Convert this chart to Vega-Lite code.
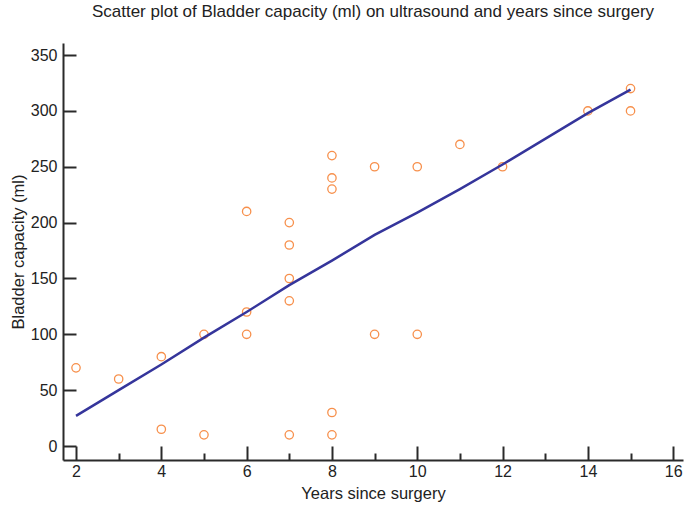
{
  "$schema": "https://vega.github.io/schema/vega-lite/v6.json",
  "width": 620,
  "height": 417,
  "autosize": {"type": "none"},
  "padding": {"left": 63, "top": 43, "right": 2, "bottom": 46},
  "background": "white",
  "title": {
    "text": "Scatter plot of Bladder capacity (ml) on ultrasound and years since surgery",
    "font": "Liberation Sans",
    "fontSize": 17,
    "fontWeight": "normal",
    "color": "#222222",
    "anchor": "middle",
    "offset": 22
  },
  "config": {
    "view": {"stroke": null},
    "axis": {
      "labelFont": "Liberation Sans",
      "titleFont": "Liberation Sans",
      "labelFontSize": 16,
      "titleFontSize": 16.5,
      "titleFontWeight": "normal",
      "labelColor": "#222222",
      "titleColor": "#222222",
      "domainColor": "#2a2a2a",
      "tickColor": "#2a2a2a",
      "domainWidth": 2,
      "tickWidth": 2,
      "grid": false
    }
  },
  "layer": [
    {
      "data": {"values": [
        {"years": 2, "capacity": 70},
        {"years": 3, "capacity": 60},
        {"years": 4, "capacity": 80},
        {"years": 4, "capacity": 15},
        {"years": 5, "capacity": 100},
        {"years": 5, "capacity": 10},
        {"years": 6, "capacity": 210},
        {"years": 6, "capacity": 120},
        {"years": 6, "capacity": 100},
        {"years": 7, "capacity": 200},
        {"years": 7, "capacity": 180},
        {"years": 7, "capacity": 150},
        {"years": 7, "capacity": 130},
        {"years": 7, "capacity": 10},
        {"years": 8, "capacity": 260},
        {"years": 8, "capacity": 240},
        {"years": 8, "capacity": 230},
        {"years": 8, "capacity": 30},
        {"years": 8, "capacity": 10},
        {"years": 9, "capacity": 250},
        {"years": 9, "capacity": 100},
        {"years": 10, "capacity": 250},
        {"years": 10, "capacity": 100},
        {"years": 11, "capacity": 270},
        {"years": 12, "capacity": 250},
        {"years": 14, "capacity": 300},
        {"years": 15, "capacity": 320},
        {"years": 15, "capacity": 300}
      ]},
      "mark": {"type": "point", "shape": "circle", "filled": false, "size": 70, "strokeWidth": 1.3, "color": "#F7904C", "opacity": 1},
      "encoding": {
        "x": {"field": "years", "type": "quantitative",
              "scale": {"domain": [1.695, 16.23], "nice": false, "zero": false},
              "axis": {"orient": "bottom", "values": [2, 4, 6, 8, 10, 12, 14, 16], "tickSize": -14, "labelPadding": 17, "title": "Years since surgery", "titlePadding": 6, "format": "d"}},
        "y": {"field": "capacity", "type": "quantitative",
              "scale": {"domain": [-12.5, 360.8], "nice": false, "zero": false},
              "axis": {"values": [0, 50, 100, 150, 200, 250, 300, 350], "tickSize": -13, "labelPadding": 19, "title": "Bladder capacity (ml)", "titlePadding": 4, "format": "d"}}
      }
    },
    {
      "data": {"values": [
        {"years": 2, "fit": 27},
        {"years": 3, "fit": 50},
        {"years": 4, "fit": 73},
        {"years": 5, "fit": 97},
        {"years": 6, "fit": 120},
        {"years": 7, "fit": 144},
        {"years": 8, "fit": 166},
        {"years": 9, "fit": 189},
        {"years": 10, "fit": 209},
        {"years": 11, "fit": 230},
        {"years": 12, "fit": 252},
        {"years": 14, "fit": 298},
        {"years": 15, "fit": 319}
      ]},
      "mark": {"type": "line", "color": "#35359B", "strokeWidth": 2.5},
      "encoding": {
        "x": {"field": "years", "type": "quantitative",
              "axis": {"orient": "bottom", "values": [3, 5, 7, 9, 11, 13, 15], "tickSize": -7, "labels": false, "domain": false, "title": null}},
        "y": {"field": "fit", "type": "quantitative"}
      }
    }
  ],
  "resolve": {"axis": {"x": "independent"}}
}
